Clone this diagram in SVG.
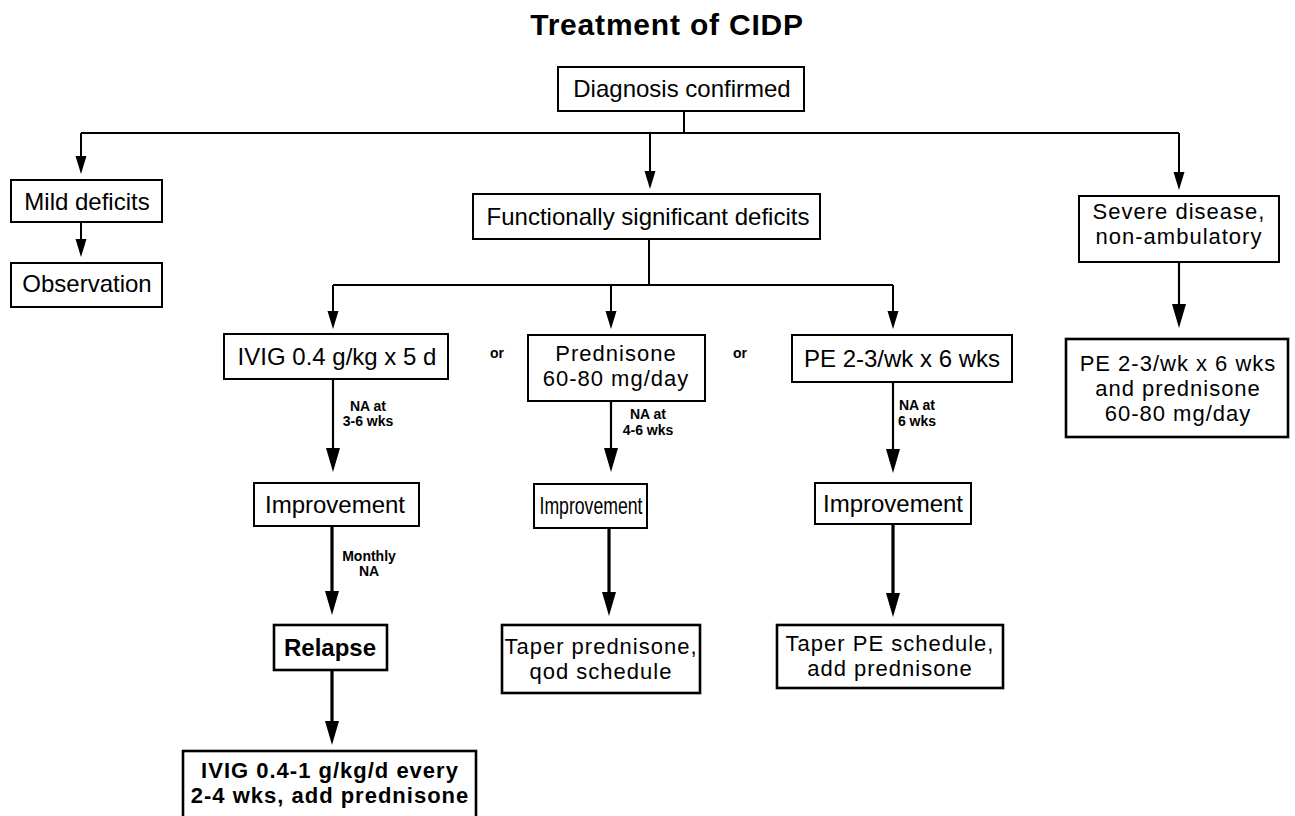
<svg xmlns="http://www.w3.org/2000/svg" width="1295" height="816" viewBox="0 0 1295 816">
  <style>
    .box { fill: #fff; stroke: #000; stroke-width: 2; }
    .box-b { fill: #fff; stroke: #000; stroke-width: 2.6; }
    .t { font-family: "Liberation Sans", Arial, Helvetica, sans-serif; font-size: 24px; fill: #000; text-anchor: middle; }
    .m { font-size: 22px; letter-spacing: 1px; }
    .tb { font-weight: bold; }
    .lbl { font-family: "Liberation Sans", Arial, Helvetica, sans-serif; font-size: 14px; font-weight: bold; fill: #000; text-anchor: middle; }
    .title { font-family: "Liberation Sans", Arial, Helvetica, sans-serif; font-size: 30px; font-weight: bold; letter-spacing: 0.8px; fill: #000; text-anchor: middle; }
    .ln { fill: none; stroke: #000; stroke-width: 2; }
    .ln-s { fill: none; stroke: #000; stroke-width: 2; marker-end: url(#ah-s); }
    .ln-l { fill: none; stroke: #000; stroke-width: 2.2; marker-end: url(#ah-l); }
    .ln-h { fill: none; stroke: #000; stroke-width: 3.2; marker-end: url(#ah-l); }
  </style>
  <defs>
    <marker id="ah-s" viewBox="0 -6 18 12" markerWidth="18" markerHeight="12" refX="12" refY="0" orient="auto" markerUnits="userSpaceOnUse">
      <path d="M0,-5.5 L18,0 L0,5.5 z" fill="#000"/>
    </marker>
    <marker id="ah-l" viewBox="0 -7 24 14" markerWidth="24" markerHeight="14" refX="16" refY="0" orient="auto" markerUnits="userSpaceOnUse">
      <path d="M0,-7 L24,0 L0,7 z" fill="#000"/>
    </marker>
  </defs>

  <rect width="1295" height="816" fill="#fff"/>

  <text class="title" x="667" y="35">Treatment of CIDP</text>

  <!-- connectors -->
  <g id="connectors">
    <path class="ln" d="M684,111 V133"/>
    <path class="ln" d="M81,133 H1179"/>
    <path class="ln-s" d="M81,133 V168"/>
    <path class="ln-s" d="M650,133 V183"/>
    <path class="ln-s" d="M1179,133 V184"/>
    <path class="ln-s" d="M81,222 V251"/>
    <path class="ln" d="M649,239 V285"/>
    <path class="ln" d="M333,285 H893"/>
    <path class="ln-s" d="M333,285 V323"/>
    <path class="ln-s" d="M611,285 V323"/>
    <path class="ln-s" d="M893,285 V323"/>
    <path class="ln-l" d="M333,379 V464"/>
    <path class="ln-l" d="M611,401 V464"/>
    <path class="ln-l" d="M893,382 V465"/>
    <path class="ln-h" d="M332,526 V607"/>
    <path class="ln-h" d="M332,670 V737"/>
    <path class="ln-h" d="M609,528 V608"/>
    <path class="ln-h" d="M893,524 V609"/>
    <path class="ln-l" d="M1179,262 V320"/>
  </g>

  <!-- connector labels -->
  <g id="labels">
    <text class="lbl" x="368" y="411">NA at</text>
    <text class="lbl" x="368" y="426">3-6 wks</text>
    <text class="lbl" x="648" y="419">NA at</text>
    <text class="lbl" x="648" y="435">4-6 wks</text>
    <text class="lbl" x="917" y="410">NA at</text>
    <text class="lbl" x="917" y="426">6 wks</text>
    <text class="lbl" x="369" y="561">Monthly</text>
    <text class="lbl" x="369" y="576">NA</text>
    <text class="lbl" x="497" y="358">or</text>
    <text class="lbl" x="740" y="358">or</text>
  </g>

  <g id="n-diagnosis">
    <rect class="box" x="558" y="67" width="246" height="44"/>
    <text class="t" x="682" y="97">Diagnosis confirmed</text>
  </g>

  <g id="n-mild">
    <rect class="box" x="11" y="180" width="151" height="42"/>
    <text class="t" x="87" y="210">Mild deficits</text>
  </g>

  <g id="n-observation">
    <rect class="box" x="11" y="263" width="151" height="44"/>
    <text class="t" x="87" y="292">Observation</text>
  </g>

  <g id="n-functional">
    <rect class="box" x="473" y="194" width="347" height="45"/>
    <text class="t" x="648" y="225">Functionally significant deficits</text>
  </g>

  <g id="n-severe">
    <rect class="box" x="1079" y="196" width="200" height="66"/>
    <text class="t m" x="1179" y="219">Severe disease,</text>
    <text class="t m" x="1179" y="244">non-ambulatory</text>
  </g>

  <g id="n-ivig">
    <rect class="box" x="224" y="334" width="224" height="45"/>
    <text class="t" x="337" y="365">IVIG 0.4 g/kg x 5 d</text>
  </g>

  <g id="n-prednisone">
    <rect class="box" x="528" y="335" width="177" height="66"/>
    <text class="t m" x="616" y="361">Prednisone</text>
    <text class="t m" x="616" y="386">60-80 mg/day</text>
  </g>

  <g id="n-pe">
    <rect class="box" x="792" y="335" width="220" height="47"/>
    <text class="t" x="902" y="367">PE 2-3/wk x 6 wks</text>
  </g>

  <g id="n-pe-pred">
    <rect class="box-b" x="1066" y="339" width="222" height="98"/>
    <text class="t m" x="1178" y="371">PE 2-3/wk x 6 wks</text>
    <text class="t m" x="1178" y="396">and prednisone</text>
    <text class="t m" x="1178" y="421">60-80 mg/day</text>
  </g>

  <g id="n-improve-1">
    <rect class="box" x="254" y="483" width="165" height="43"/>
    <text class="t" x="335" y="513">Improvement</text>
  </g>

  <g id="n-improve-2">
    <rect class="box" x="534" y="484" width="113" height="44"/>
    <text class="t" x="591" y="514" textLength="103" lengthAdjust="spacingAndGlyphs">Improvement</text>
  </g>

  <g id="n-improve-3">
    <rect class="box" x="815" y="483" width="156" height="41"/>
    <text class="t" x="893" y="512">Improvement</text>
  </g>

  <g id="n-relapse">
    <rect class="box-b" x="274" y="625" width="113" height="45"/>
    <text class="t tb" x="330" y="656">Relapse</text>
  </g>

  <g id="n-taper-pred">
    <rect class="box-b" x="502" y="625" width="198" height="68"/>
    <text class="t m" x="601" y="654">Taper prednisone,</text>
    <text class="t m" x="601" y="679">qod schedule</text>
  </g>

  <g id="n-taper-pe">
    <rect class="box-b" x="777" y="625" width="226" height="63"/>
    <text class="t m" x="890" y="651">Taper PE schedule,</text>
    <text class="t m" x="890" y="676">add prednisone</text>
  </g>

  <g id="n-ivig-maint">
    <rect class="box-b" x="183" y="751" width="293" height="80"/>
    <text class="t m tb" x="330" y="778">IVIG 0.4-1 g/kg/d every</text>
    <text class="t m tb" x="330" y="803">2-4 wks, add prednisone</text>
  </g>
</svg>
